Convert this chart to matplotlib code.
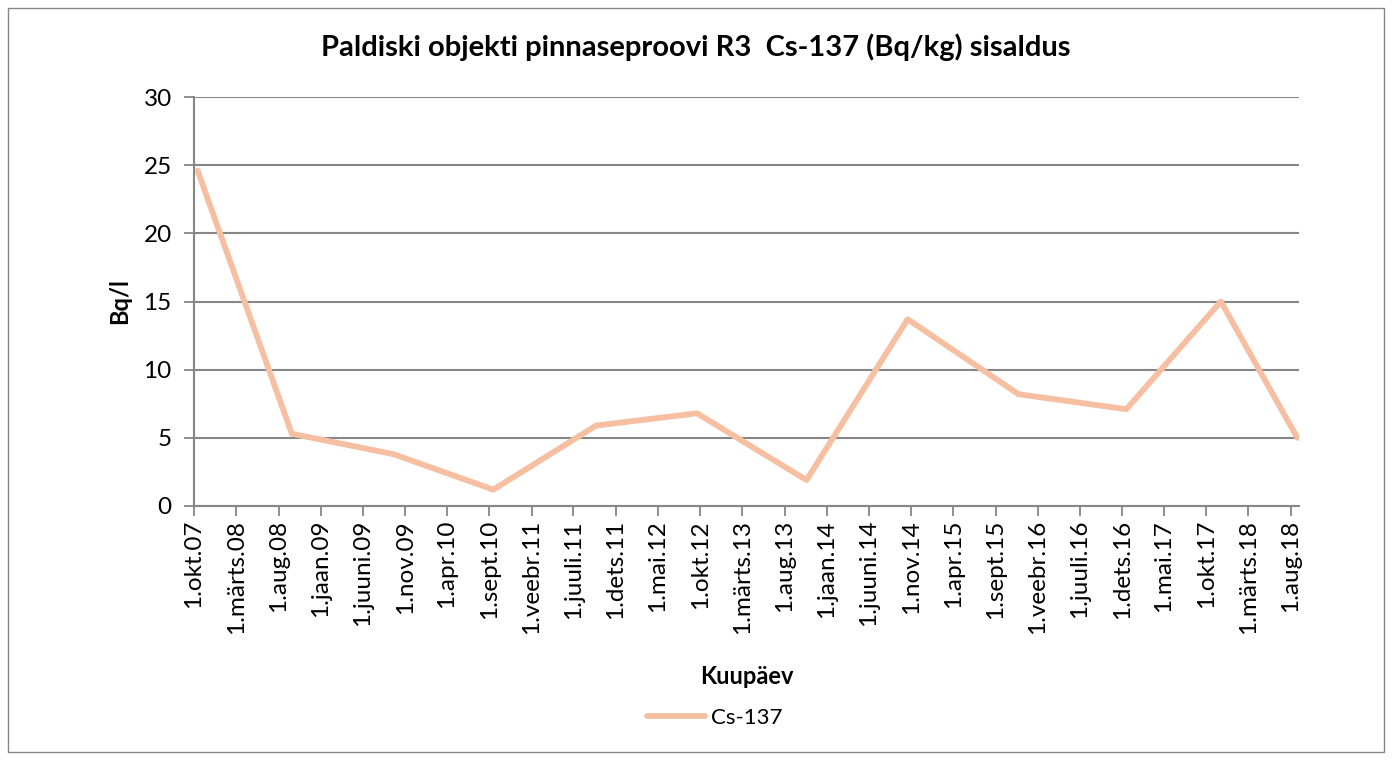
import numpy as np
import pandas as pd
import matplotlib
matplotlib.use("Agg")
import matplotlib.pyplot as plt
from matplotlib.patches import Rectangle

# proovivõtu kuupäevad ja Cs-137 sisaldus
sample_dates = ["2007-10-14", "2008-09-18", "2009-09-20", "2010-09-15",
                "2011-09-21", "2012-09-19", "2013-10-19", "2014-10-19",
                "2015-11-23", "2016-12-16", "2017-11-22", "2018-08-25"]
cs137 = [24.6, 5.3, 3.8, 1.2, 5.9, 6.8, 1.9, 13.7, 8.2, 7.1, 15.0, 5.0]

# telje märgised iga 5 kuu järel
tick_dates = pd.date_range("2007-10-01", "2018-08-01", freq="5MS")
month_names = ["jaan", "veebr", "märts", "apr", "mai", "juuni",
               "juuli", "aug", "sept", "okt", "nov", "dets"]
tick_labels = [f"1.{month_names[d.month - 1]}.{d.year % 100:02d}" for d in tick_dates]

title = "Paldiski objekti pinnaseproovi R3  Cs-137 (Bq/kg) sisaldus"

plt.rcParams['font.family'] = ['Lato', 'DejaVu Sans']
grid_col = "#868686"
line_col = "#F7BFA1"
fs = 17.5

fig = plt.figure(figsize=(13.92, 7.6), dpi=100)
fig.patch.set_facecolor("white")
fig.patches.append(Rectangle((8 / 1392, 8 / 760), 1376 / 1392, 744 / 760,
                             transform=fig.transFigure, fill=False,
                             edgecolor=grid_col, linewidth=1.0))

ax = fig.add_axes([194 / 1392, 1 - 506 / 760, 1105 / 1392, 409 / 760])

x = pd.to_datetime(sample_dates)
ax.plot(x, cs137, color=line_col, linewidth=4.2, solid_capstyle="round",
        solid_joinstyle="round", label="Cs-137", zorder=3)

ax.set_xlim(pd.Timestamp("2007-10-01"), pd.Timestamp("2018-08-31"))
ax.set_ylim(0, 30)
ax.set_yticks(np.arange(0, 31, 5))
ax.set_xticks(tick_dates)
ax.set_xticklabels(tick_labels, rotation=90, fontsize=fs)
ax.tick_params(axis="y", labelsize=fs, length=7, width=1.3, color=grid_col, pad=9)
ax.tick_params(axis="x", length=7, width=1.3, color=grid_col, pad=3)

ax.grid(axis="y", color=grid_col, linewidth=1.5)
ax.set_axisbelow(True)
for side in ["top", "right"]:
    ax.spines[side].set_visible(False)
for side in ["left", "bottom"]:
    ax.spines[side].set_color(grid_col)
    ax.spines[side].set_linewidth(1.5)

ax.set_ylabel("Bq/l", fontsize=17, fontweight="bold", labelpad=9)
ax.set_xlabel("Kuupäev", fontsize=17, fontweight="bold", labelpad=22)
fig.text(0.5, 1 - 47 / 760, title, ha="center", va="center",
         fontsize=21, fontweight="bold")

fig.legend(loc="center", bbox_to_anchor=(715 / 1392, 1 - 718 / 760),
           frameon=False, fontsize=16, handlelength=2.6, handletextpad=0.3)

fig.savefig("out.png", dpi=100)
